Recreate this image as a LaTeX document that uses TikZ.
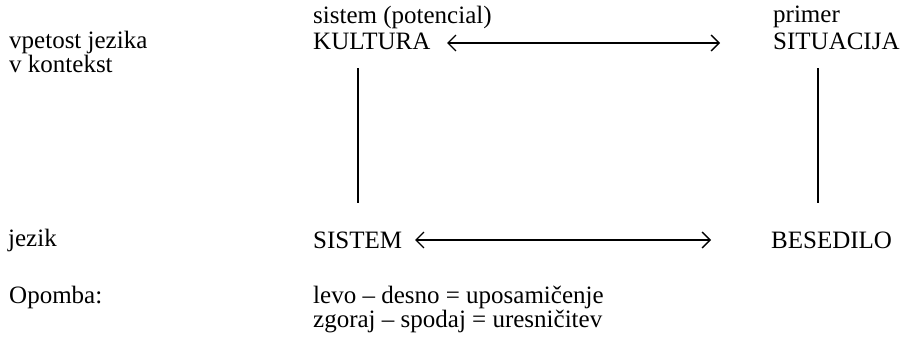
\documentclass[tikz,border=0pt]{standalone}
\usepackage{fontspec}
\setmainfont{Liberation Serif}
\usetikzlibrary{arrows.meta}
\begin{document}
\begin{tikzpicture}[x=1pt,y=-1pt,
  txt/.style={anchor=west,inner sep=0pt,font=\fontsize{25}{24}\selectfont,align=left},
  conn/.style={line width=1.3pt},
  biarrow/.style={conn,{Straight Barb[length=8pt,width=16pt,line width=1.3pt]}-{Straight Barb[length=8pt,width=16pt,line width=1.3pt]}}]
\useasboundingbox (0,0) rectangle (901,343);
% left column
\node[txt] (ctx) at (9,52) {vpetost jezika\\v kontekst};
\node[txt] (jez) at (8,240) {jezik};
\node[txt] (opo) at (9,297) {Opomba:};
% top row
\node[txt] (pot) at (313,17) {sistem (potencial)};
\node[txt] (kul) at (313,41) {KULTURA};
\node[txt] (pri) at (773,17) {primer};
\node[txt] (sit) at (773,41) {SITUACIJA};
% bottom row
\node[txt] (sis) at (313,240) {SISTEM};
\node[txt] (bes) at (771,240) {BESEDILO};
% note
\node[txt] (note) at (313,309) {levo -- desno = uposamičenje\\zgoraj -- spodaj = uresničitev};
% coordinates
\coordinate (ka) at (447,43);
\coordinate (kb) at (720,43);
\coordinate (sa) at (415,240);
\coordinate (sb) at (711,240);
\coordinate (lt) at (358,68);
\coordinate (lb) at (358,203);
\coordinate (rt) at (818,68);
\coordinate (rb) at (818,203);
\draw[biarrow] (ka) -- (kb);
\draw[biarrow] (sa) -- (sb);
\draw[conn] (lt) -- (lb);
\draw[conn] (rt) -- (rb);
\end{tikzpicture}
\end{document}
